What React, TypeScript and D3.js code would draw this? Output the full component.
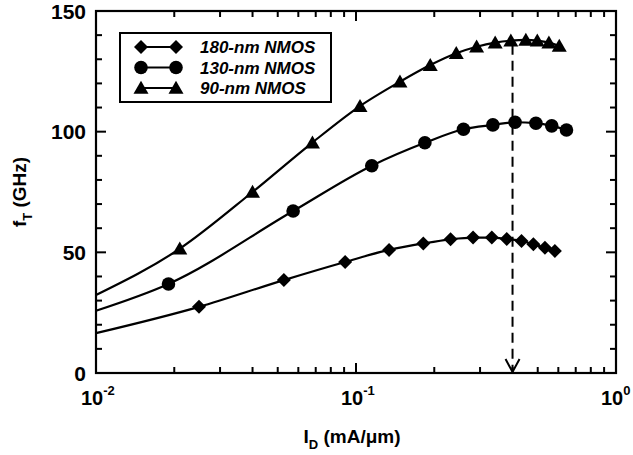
import React from 'react';
import * as d3 from 'd3';

// ---- data ----
const xDecades = [-2, -1, 0];
const yTicks = [0, 50, 100, 150];
const yMinor = [10, 20, 30, 40, 60, 70, 80, 90, 110, 120, 130, 140];
const seriesNames = ['180-nm NMOS', '130-nm NMOS', '90-nm NMOS'];

const nm180X = [0.0249, 0.0528, 0.0908, 0.134, 0.1815, 0.231, 0.282, 0.333, 0.38, 0.433, 0.481, 0.533, 0.582];
const nm180Y = [27.4, 38.5, 46.0, 51.0, 53.7, 55.4, 56.1, 56.1, 55.5, 54.7, 53.3, 51.9, 50.6];
const nm130X = [0.019, 0.0573, 0.115, 0.184, 0.259, 0.336, 0.409, 0.492, 0.566, 0.645];
const nm130Y = [36.9, 67.1, 85.9, 95.4, 101.0, 102.8, 103.9, 103.5, 102.4, 100.7];
const nm90X = [0.021, 0.04, 0.068, 0.1036, 0.1476, 0.193, 0.243, 0.291, 0.343, 0.394, 0.45, 0.498, 0.552, 0.605];
const nm90Y = [51.5, 75.0, 95.5, 110.6, 120.7, 127.6, 132.5, 135.2, 136.9, 137.7, 138.0, 137.7, 136.9, 135.5];
// curve start values at the left edge (I_D = 0.01)
const lineStartX = 0.01;
const lineStartY = [16.5, 25.8, 32.3];
const peakX = 0.4;

const W = 633, H = 455;
const L = 96, R = 616, T = 11, B = 373;
const FONT = '"Liberation Sans", Arial, Helvetica, sans-serif';

function marker(kind: number, cx: number, cy: number, key: string) {
  if (kind === 0) {
    const s = 7;
    return <path key={key} d={`M${cx},${cy - s}L${cx + s},${cy}L${cx},${cy + s}L${cx - s},${cy}Z`} fill="#000" />;
  }
  if (kind === 1) return <circle key={key} cx={cx} cy={cy} r={6.8} fill="#000" />;
  const w = 7.5, h = 13;
  return <path key={key} d={`M${cx},${cy - h * 0.55}L${cx + w},${cy + h * 0.45}L${cx - w},${cy + h * 0.45}Z`} fill="#000" />;
}

export default function App() {
  const x = d3.scaleLog().domain([0.01, 1]).range([L, R]);
  const y = d3.scaleLinear().domain([0, 150]).range([B, T]);
  const series = [
    { xs: nm180X, ys: nm180Y },
    { xs: nm130X, ys: nm130Y },
    { xs: nm90X, ys: nm90Y },
  ];
  const line = d3
    .line<[number, number]>()
    .x((d) => x(d[0]))
    .y((d) => y(d[1]))
    .curve(d3.curveMonotoneX);

  const xMinor: number[] = [];
  for (const e of [-2, -1]) for (let k = 2; k <= 9; k++) xMinor.push(k * Math.pow(10, e));

  const px = x(peakX);

  return (
    <svg width={W} height={H} style={{ position: 'absolute', left: 0, top: 0, background: '#fff' }} fontFamily={FONT}>
      <rect x={0} y={0} width={W} height={H} fill="#fff" />
      {/* curves */}
      {series.map((s, i) => {
        const pts: [number, number][] = [[lineStartX, lineStartY[i]], ...s.xs.map((v, j) => [v, s.ys[j]] as [number, number])];
        return <path key={'l' + i} d={line(pts) || ''} fill="none" stroke="#000" strokeWidth={2.2} />;
      })}
      {/* markers */}
      {series.map((s, i) => s.xs.map((v, j) => marker(i, x(v), y(s.ys[j]), `m${i}-${j}`)))}
      {/* dashed peak line */}
      <line x1={px} x2={px} y1={y(136)} y2={B - 2} stroke="#000" strokeWidth={2} strokeDasharray="10,6" />
      <polyline points={`${px - 7},${B - 14} ${px},${B - 1} ${px + 7},${B - 14}`} fill="none" stroke="#000" strokeWidth={2} />
      {/* ticks */}
      {yTicks.map((t) => (
        <g key={'yt' + t}>
          <line x1={L} x2={L + 10} y1={y(t)} y2={y(t)} stroke="#000" strokeWidth={2} />
          <line x1={R} x2={R - 10} y1={y(t)} y2={y(t)} stroke="#000" strokeWidth={2} />
        </g>
      ))}
      {yMinor.map((t) => (
        <g key={'ym' + t}>
          <line x1={L} x2={L + 6} y1={y(t)} y2={y(t)} stroke="#000" strokeWidth={2} />
          <line x1={R} x2={R - 6} y1={y(t)} y2={y(t)} stroke="#000" strokeWidth={2} />
        </g>
      ))}
      {xDecades.map((e) => (
        <g key={'xt' + e}>
          <line x1={x(Math.pow(10, e))} x2={x(Math.pow(10, e))} y1={B} y2={B - 10} stroke="#000" strokeWidth={2} />
          <line x1={x(Math.pow(10, e))} x2={x(Math.pow(10, e))} y1={T} y2={T + 10} stroke="#000" strokeWidth={2} />
        </g>
      ))}
      {xMinor.map((v, i) => (
        <g key={'xm' + i}>
          <line x1={x(v)} x2={x(v)} y1={B} y2={B - 6} stroke="#000" strokeWidth={2} />
          <line x1={x(v)} x2={x(v)} y1={T} y2={T + 6} stroke="#000" strokeWidth={2} />
        </g>
      ))}
      {/* frame */}
      <rect x={L} y={T} width={R - L} height={B - T} fill="none" stroke="#000" strokeWidth={2.2} />
      {/* tick labels */}
      {yTicks.map((t) => (
        <text key={'yl' + t} x={L - 10} y={y(t) + 7.5} textAnchor="end" fontSize={21} fontWeight="bold">
          {t}
        </text>
      ))}
      {xDecades.map((e) => (
        <text key={'xl' + e} x={x(Math.pow(10, e)) - 15} y={405} textAnchor="start" fontSize={20} fontWeight="bold">
          10
          <tspan dy={-10} fontSize={13}>{e === 0 ? '0' : '' + e}</tspan>
        </text>
      ))}
      {/* axis titles */}
      <text x={352} y={443} textAnchor="middle" fontSize={19} fontWeight="bold">
        I<tspan dy={6} fontSize={13}>D</tspan>
        <tspan dy={-6}> (mA/μm)</tspan>
      </text>
      <text transform={`translate(26,${(T + B) / 2}) rotate(-90)`} textAnchor="middle" fontSize={19} fontWeight="bold">
        f<tspan dy={6} fontSize={13}>T</tspan>
        <tspan dy={-6}> (GHz)</tspan>
      </text>
      {/* legend */}
      <rect x={120} y={33} width={211} height={69} fill="#fff" stroke="#000" strokeWidth={2} />
      {seriesNames.map((n, i) => {
        const ly = 47 + i * 20.5;
        return (
          <g key={'lg' + i}>
            <line x1={141} x2={176} y1={ly} y2={ly} stroke="#000" strokeWidth={2.2} />
            {marker(i, 141, ly, 'la' + i)}
            {marker(i, 176, ly, 'lb' + i)}
            <text x={200} y={ly + 6} fontSize={17} fontWeight="bold" fontStyle="italic">
              {n}
            </text>
          </g>
        );
      })}
    </svg>
  );
}
